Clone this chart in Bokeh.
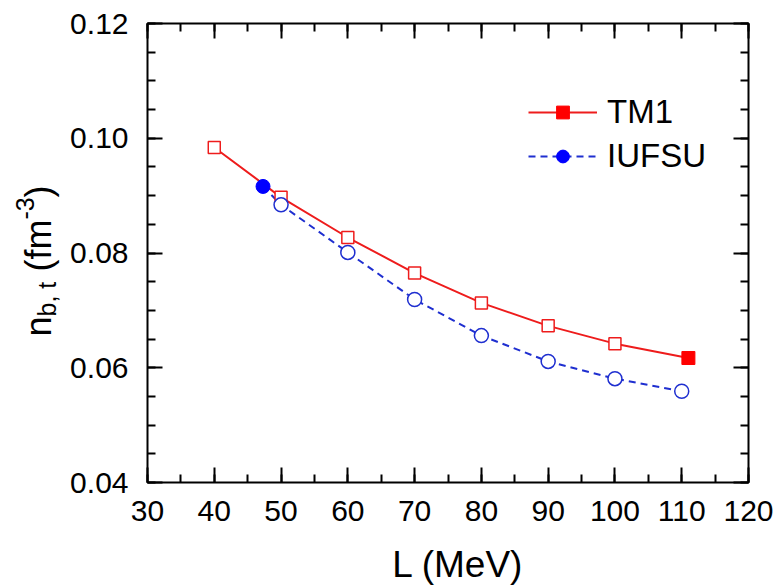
import math
from bokeh.plotting import figure
from bokeh.layouts import row, column
from bokeh.models import (Range1d, SingleIntervalTicker, LinearAxis, PrintfTickFormatter,
                          Legend, LegendItem)
from bokeh.core.properties import value
from bokeh.embed import file_html
from bokeh.resources import INLINE

# ---- data ----
L_TM1 = [40, 50, 60, 70, 80, 90, 100, 111]
n_TM1 = [0.0984, 0.0897, 0.0827, 0.0765, 0.0713, 0.0673, 0.0642, 0.0617]
L_IUFSU = [47.3, 50, 60, 70, 80, 90, 100, 110]
n_IUFSU = [0.0916, 0.0884, 0.0801, 0.0719, 0.0656, 0.0611, 0.0581, 0.0559]

X_RANGE = (30, 120)
Y_RANGE = (0.04, 0.12)
X_TICK_STEP = 10
Y_TICK_STEP = 0.02

X_TITLE = "L (MeV)"
Y_TITLE_MAIN = ["n", "(fm", ")"]
Y_TITLE_SMALL = ["b, t", "-3"]

RED = "#ee1c1c"
RED_FILL = "#ff0000"
BLUE = "#1f2fd0"
BLUE_FILL = "#0000ff"
FONT = "Liberation Sans"

# ---- layout (page pixels) ----
PAGE_W, PAGE_H = 777, 587
FL, FT, FW, FH = 147, 23, 601, 459     # frame on page
YLAB_W = 62                             # width of y-title strip
XLAB_H = 49                             # height of x-title strip
TOP_H = PAGE_H - XLAB_H
MID = 0.3465                            # baseline -> middle offset (em)


def strip_fig(w, h, y0, y1):
    f = figure(width=w, height=h, x_range=Range1d(0, w), y_range=Range1d(y0, y1),
               title=None, min_border=0, min_border_left=0, min_border_right=0,
               min_border_top=0, min_border_bottom=0,
               x_axis_location=None, y_axis_location=None,
               output_backend="svg", toolbar_location=None)
    f.grid.visible = False
    f.outline_line_color = None
    f.background_fill_color = "white"
    f.border_fill_color = "white"
    return f


# ---- main plot ----
p = figure(width=PAGE_W - YLAB_W, height=TOP_H, title=None,
           min_border_left=FL - YLAB_W, min_border_top=FT,
           min_border_right=PAGE_W - FL - FW, min_border_bottom=TOP_H - FT - FH,
           x_range=Range1d(*X_RANGE), y_range=Range1d(*Y_RANGE),
           output_backend="svg", toolbar_location=None)
p.grid.visible = False
p.outline_line_color = "black"
p.outline_line_width = 2
p.background_fill_color = "white"
p.border_fill_color = "white"

xt = SingleIntervalTicker(interval=X_TICK_STEP, num_minor_ticks=2)
yt = SingleIntervalTicker(interval=Y_TICK_STEP, num_minor_ticks=4)

top_axis = LinearAxis()
right_axis = LinearAxis()
p.add_layout(top_axis, "above")
p.add_layout(right_axis, "right")


def style_axis(ax, ticker, show_labels):
    ax.ticker = ticker
    ax.axis_line_color = None
    ax.major_tick_in = 15
    ax.major_tick_out = 0
    ax.minor_tick_in = 8
    ax.minor_tick_out = 0
    ax.major_tick_line_width = 2
    ax.minor_tick_line_width = 2
    ax.major_tick_line_color = "black"
    ax.minor_tick_line_color = "black"
    ax.axis_label = None
    if show_labels:
        ax.major_label_text_font = FONT
        ax.major_label_text_font_size = "30px"
        ax.major_label_text_color = "black"
    else:
        ax.major_label_text_font_size = "1px"
        ax.major_label_text_color = None
        ax.major_label_standoff = 0


style_axis(p.below[0], xt, True)
style_axis(p.left[0], yt, True)
style_axis(top_axis, xt, False)
style_axis(right_axis, yt, False)
p.below[0].major_label_standoff = 18
p.left[0].major_label_standoff = 19
p.left[0].formatter = PrintfTickFormatter(format="%.2f")

# ---- series ----
tm1_line = p.line(L_TM1, n_TM1, line_color=RED, line_width=2)
iu_line = p.line(L_IUFSU, n_IUFSU, line_color=BLUE, line_width=2, line_dash="7 5")

p.scatter(L_TM1[:-1], n_TM1[:-1], marker="square", size=12, line_color=RED,
          fill_color="white", line_width=1.5)
tm1_fill = p.scatter(L_TM1[-1:], n_TM1[-1:], marker="square", size=13, line_color=RED_FILL,
                     fill_color=RED_FILL, line_width=1)
p.scatter(L_IUFSU[1:], n_IUFSU[1:], marker="circle", size=14, line_color=BLUE,
          fill_color="white", line_width=1.5)
iu_fill = p.scatter(L_IUFSU[:1], n_IUFSU[:1], marker="circle", size=14, line_color=BLUE_FILL,
                    fill_color=BLUE_FILL, line_width=1)

legend = Legend(items=[LegendItem(label="TM1", renderers=[tm1_line, tm1_fill]),
                       LegendItem(label="IUFSU", renderers=[iu_line, iu_fill])],
                location=(381, 307),
                border_line_color=None, background_fill_alpha=0,
                glyph_width=69, glyph_height=32, label_standoff=10, spacing=6,
                padding=10, label_text_font=FONT, label_text_font_size="33px",
                label_text_color="black")
p.add_layout(legend)

# ---- y title strip: its frame is aligned with the main frame (page y FT..FT+FH);
#      strip y coordinate = TOP_H - page_y ----
ylab = strip_fig(YLAB_W, TOP_H, TOP_H - (FT + FH), TOP_H - FT)
ylab.text(x=[50 - MID * 36] * 3, y=[TOP_H - 336, TOP_H - 271, TOP_H - 197], text=Y_TITLE_MAIN,
          angle=math.pi / 2, text_align="left", text_baseline="middle",
          text_font=value(FONT), text_font_size="36px", text_color="black")
ylab.text(x=[55 - MID * 25, 33 - MID * 25], y=[TOP_H - 316, TOP_H - 219], text=Y_TITLE_SMALL,
          angle=math.pi / 2, text_align="left", text_baseline="middle",
          text_font=value(FONT), text_font_size="25px", text_color="black")

# ---- x title strip (strip y = PAGE_H - page_y) ----
xlab = strip_fig(PAGE_W, XLAB_H, 0, XLAB_H)
xlab.text(x=[457.5], y=[PAGE_H - (577 - MID * 37)], text=[X_TITLE], text_align="center",
          text_baseline="middle", text_font=value(FONT), text_font_size="37px",
          text_color="black")

layout = column(row(ylab, p, spacing=0), xlab, spacing=0)
open("out.html", "w").write(file_html(layout, INLINE))
